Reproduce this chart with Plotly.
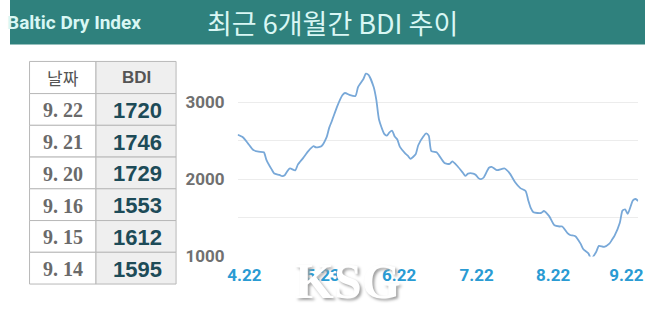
import plotly.graph_objects as go

# ---- data ----
day_offset = [0, 2, 4, 6, 8, 10, 11, 13, 14, 16, 17, 18, 19, 20, 22, 23, 25, 27, 29, 30,
              32, 34, 35, 36, 38, 40, 41, 43, 45, 46, 48, 49, 50, 52, 53, 54, 56, 57, 58, 59,
              60, 61, 62, 64, 65, 66, 68, 69, 71, 72, 73, 74, 76, 77, 79, 81, 82, 84, 86, 87,
              88, 90, 91, 92, 93, 94, 96, 97, 99, 102, 104, 106, 108, 110, 111, 112, 113, 116, 117, 119,
              121, 123, 124, 126, 127, 129, 131, 132, 134, 135, 137, 138, 140, 142, 143, 144, 146, 147, 148, 149,
              151, 152, 153]
bdi_values = [2580, 2548, 2465, 2381, 2360, 2352, 2255, 2130, 2076, 2058, 2042, 2054, 2108, 2142, 2117, 2192, 2277, 2368, 2431, 2415,
              2431, 2548, 2673, 2758, 2946, 3093, 3122, 3093, 3084, 3197, 3301, 3373, 3357, 3197, 3030, 2779, 2591, 2569, 2611, 2632,
              2557, 2519, 2422, 2339, 2309, 2268, 2327, 2444, 2560, 2598, 2569, 2368, 2352, 2309, 2214, 2201, 2234, 2171, 2088, 2045,
              2076, 2076, 2058, 2017, 2004, 2025, 2151, 2164, 2121, 2142, 2076, 1963, 1887, 1850, 1731, 1627, 1573, 1565, 1590, 1523,
              1405, 1389, 1389, 1304, 1279, 1263, 1166, 1096, 1040, 970, 1062, 1137, 1125, 1166, 1216, 1271, 1439, 1595, 1612, 1553,
              1729, 1746, 1720]

x_tick_pos = [2.6, 32.5, 61.7, 91.3, 120.5, 148.5]
x_tick_labels = ["4.22", "5.23", "6.22", "7.22", "8.22", "9.22"]
y_tick_vals = [1000, 1500, 2000, 2500, 3000]
y_tick_labels = ["1000", "", "2000", "", "3000"]

table_dates = ["9. 22", "9. 21", "9. 20", "9. 16", "9. 15", "9. 14"]
table_bdi = ["1720", "1746", "1729", "1553", "1612", "1595"]
table_header = ["날짜", "BDI"]

W, H = 650, 310

def px_x(p):
    return p / W

def px_y(p):
    return (H - p) / H

fig = go.Figure()

fig.add_trace(go.Scatter(
    x=day_offset, y=bdi_values, mode="lines",
    line=dict(color="#78a8d8", width=1.8, shape="spline", smoothing=0.6),
    hoverinfo="skip", showlegend=False,
))

shapes = [dict(type="rect", xref="paper", yref="paper", x0=0, x1=1,
               y0=px_y(46), y1=1, fillcolor="#2f817d", line_width=0, layer="below")]
annotations = []

# ---- table drawn from the data lists ----
col_edges = [20, 88, 170]
col_fill = ["#ffffff", "#efefef"]
top = 63.5
header_h = 33.2
row_h = 32.8
border = "#b8b8b8"

def cell(x0, x1, y0, y1, fill):
    shapes.append(dict(type="rect", xref="paper", yref="paper",
                       x0=px_x(x0), x1=px_x(x1), y0=px_y(y1), y1=px_y(y0),
                       fillcolor=fill, line=dict(color=border, width=1), layer="below"))

def text(t, xc, yc, font):
    annotations.append(dict(text=t, xref="paper", yref="paper", x=px_x(xc), y=px_y(yc),
                            xanchor="center", yanchor="middle", showarrow=False, font=font))

for c in range(2):
    cell(col_edges[c], col_edges[c + 1], top, top + header_h, col_fill[c])
text(table_header[0], 54, top + header_h / 2,
     dict(family="Noto Sans CJK KR", size=17, color="#555555"))
text("<b>%s</b>" % table_header[1], 129, top + header_h / 2,
     dict(family="Liberation Sans", size=17, color="#555555"))

for i, (d, v) in enumerate(zip(table_dates, table_bdi)):
    y0 = top + header_h + i * row_h
    y1 = y0 + row_h
    for c in range(2):
        cell(col_edges[c], col_edges[c + 1], y0, y1, col_fill[c])
    text("<b>%s</b>" % d, 54, (y0 + y1) / 2 + 1,
         dict(family="Liberation Serif", size=20, color="#6a6a6a"))
    text("<b>%s</b>" % v, 130, (y0 + y1) / 2 + 1,
         dict(family="Liberation Sans", size=22, color="#1d4b58"))

# ---- header titles & watermark ----
annotations += [
    dict(text="<b>Baltic Dry Index</b>", xref="paper", yref="paper",
         x=px_x(66), y=px_y(23), xanchor="center", yanchor="middle", showarrow=False,
         font=dict(family="Roboto", size=19, color="#d9f7f4")),
    dict(text="최근 6개월간 BDI 추이", xref="paper", yref="paper",
         x=px_x(330), y=px_y(23), xanchor="center", yanchor="middle", showarrow=False,
         font=dict(family="Noto Sans CJK KR", size=27, color="#d9f7f4")),
    dict(text="KSG", xref="paper", yref="paper",
         x=px_x(346), y=px_y(290), xanchor="center", yanchor="middle", showarrow=False,
         font=dict(family="Liberation Serif", size=50, color="#ffffff", weight="bold",
                   shadow="2px 2px 3px #a0a0a0")),
]

fig.update_layout(
    width=W, height=H,
    margin=dict(l=0, r=0, t=0, b=0),
    paper_bgcolor="white", plot_bgcolor="white",
    xaxis=dict(
        domain=[px_x(233), px_x(643)], range=[0, 153],
        showgrid=False, zeroline=False, showline=False,
        tickmode="array", tickvals=x_tick_pos, ticktext=x_tick_labels,
        tickfont=dict(family="Roboto", size=17, color="#2a9bd3", weight="bold"),
        ticks="", ticklabelstandoff=7,
    ),
    yaxis=dict(
        domain=[px_y(265), px_y(70)], range=[1000, 3450],
        showgrid=True, gridcolor="#ececec", gridwidth=1,
        zeroline=False, showline=False,
        tickmode="array", tickvals=y_tick_vals, ticktext=y_tick_labels,
        tickfont=dict(family="Roboto", size=17, color="#707070", weight="bold"),
        ticks="", ticklabelstandoff=12,
    ),
    shapes=shapes,
    annotations=annotations,
)

fig.write_html("out.html")
